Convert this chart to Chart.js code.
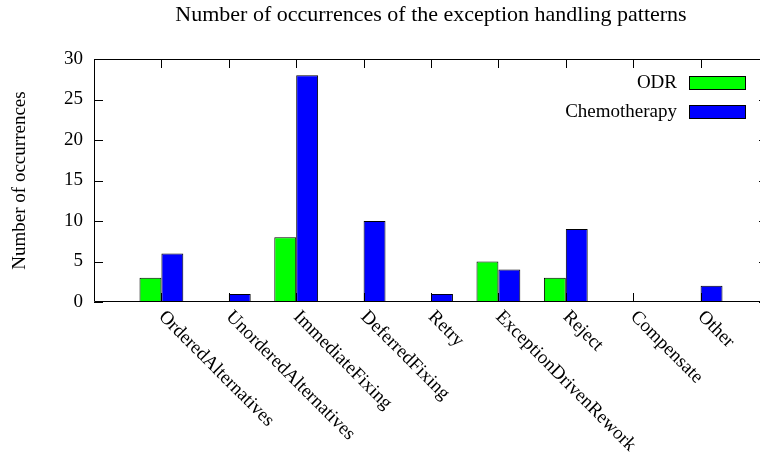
<!DOCTYPE html>
<html>
<head>
<meta charset="utf-8">
<script src="https://cdn.jsdelivr.net/npm/chart.js@4/dist/chart.umd.min.js"></script>
<style>
  html, body { margin: 0; padding: 0; background: #fff; overflow: hidden; }
  canvas { display: block; }
</style>
</head>
<body>
<canvas id="c" width="862" height="454"></canvas>
<script>
// Exception handling patterns and how often each one occurred
const categories = [
  'OrderedAlternatives', 'UnorderedAlternatives', 'ImmediateFixing',
  'DeferredFixing', 'Retry', 'ExceptionDrivenRework', 'Reject',
  'Compensate', 'Other'
];
const odrCounts = [3, 0, 8, 0, 0, 5, 3, 0, 0];
const chemoCounts = [6, 1, 28, 10, 1, 4, 9, 0, 2];
const yTicks = [0, 5, 10, 15, 20, 25, 30];
const chartTitle = 'Number of occurrences of the exception handling patterns';

const FONT = '"Liberation Serif", "Times New Roman", serif';
const TICK = 9;

function points(values) {
  return values.map((v, i) => ({ x: i, y: v }));
}

// Title, frame, inward ticks, slanted category labels and key
const gnuFrame = {
  id: 'gnuFrame',
  afterDraw(chart) {
    const ctx = chart.ctx;
    const a = chart.chartArea;
    const xs = chart.scales.x;
    const ys = chart.scales.y;
    ctx.save();

    // title centred over the plot
    ctx.fillStyle = '#000';
    ctx.font = '22px ' + FONT;
    ctx.textAlign = 'center';
    ctx.textBaseline = 'alphabetic';
    ctx.fillText(chartTitle, (a.left + a.right) / 2, 21);

    ctx.strokeStyle = '#000';
    ctx.lineWidth = 1;
    ctx.beginPath();
    ctx.rect(a.left + 0.5, a.top + 0.5, a.right - a.left - 1, a.bottom - a.top - 1);
    // y ticks on both sides
    yTicks.forEach(v => {
      const py = Math.round(ys.getPixelForValue(v)) + 0.5;
      ctx.moveTo(a.left, py); ctx.lineTo(a.left + TICK, py);
      ctx.moveTo(a.right, py); ctx.lineTo(a.right - TICK, py);
    });
    // category ticks on top and bottom
    categories.forEach((c, i) => {
      const px = Math.round(xs.getPixelForValue(i)) + 0.5;
      ctx.moveTo(px, a.top); ctx.lineTo(px, a.top + TICK);
      ctx.moveTo(px, a.bottom); ctx.lineTo(px, a.bottom - TICK);
    });
    ctx.stroke();

    // slanted category labels
    ctx.fillStyle = '#000';
    ctx.font = '19px ' + FONT;
    ctx.textAlign = 'left';
    ctx.textBaseline = 'middle';
    categories.forEach((c, i) => {
      const px = xs.getPixelForValue(i);
      ctx.save();
      ctx.translate(px, a.bottom + 12);
      ctx.rotate(Math.PI / 4);
      ctx.fillText(c, 0, 0);
      ctx.restore();
    });

    // key
    const keyRight = a.right - 22;
    const swW = 57, swH = 14;
    chart.data.datasets.forEach((ds, k) => {
      const cy = 83 + k * 29;
      ctx.textAlign = 'right';
      ctx.fillStyle = '#000';
      ctx.fillText(ds.label, keyRight - swW - 12, cy);
      ctx.fillStyle = ds.backgroundColor;
      ctx.fillRect(keyRight - swW, cy - swH / 2, swW, swH);
      ctx.strokeStyle = '#000';
      ctx.strokeRect(keyRight - swW + 0.5, cy - swH / 2 + 0.5, swW - 1, swH - 1);
    });
    ctx.restore();
  }
};

new Chart(document.getElementById('c'), {
  type: 'bar',
  data: {
    datasets: [
      {
        label: 'ODR',
        data: points(odrCounts),
        backgroundColor: '#00ff00',
        borderColor: '#000',
        borderWidth: 1,
        borderSkipped: false
      },
      {
        label: 'Chemotherapy',
        data: points(chemoCounts),
        backgroundColor: '#0000ff',
        borderColor: '#000',
        borderWidth: 1,
        borderSkipped: false
      }
    ]
  },
  options: {
    responsive: false,
    animation: false,
    devicePixelRatio: 1,
    layout: { padding: { left: 0, right: 94, top: 59, bottom: 0 } },
    categoryPercentage: 0.65,
    barPercentage: 1,
    plugins: {
      legend: { display: false },
      tooltip: { enabled: false },
      title: { display: false }
    },
    scales: {
      x: {
        type: 'linear',
        min: -1,
        max: 9,
        offset: false,
        grid: { display: false, drawTicks: false },
        border: { display: false },
        ticks: { display: false, stepSize: 1 },
        afterFit(s) { s.height = 152; }
      },
      y: {
        min: 0,
        max: 30,
        grid: { display: false, drawTicks: false },
        border: { display: false },
        ticks: {
          stepSize: 5,
          padding: 11,
          color: '#000',
          font: { family: FONT, size: 19 }
        },
        title: {
          display: true,
          text: 'Number of occurrences',
          color: '#000',
          font: { family: FONT, size: 19, lineHeight: 1.2 },
          padding: { top: 9, bottom: 0 }
        },
        afterFit(s) { s.width = 94; }
      }
    }
  },
  plugins: [gnuFrame]
});
</script>
</body>
</html>
